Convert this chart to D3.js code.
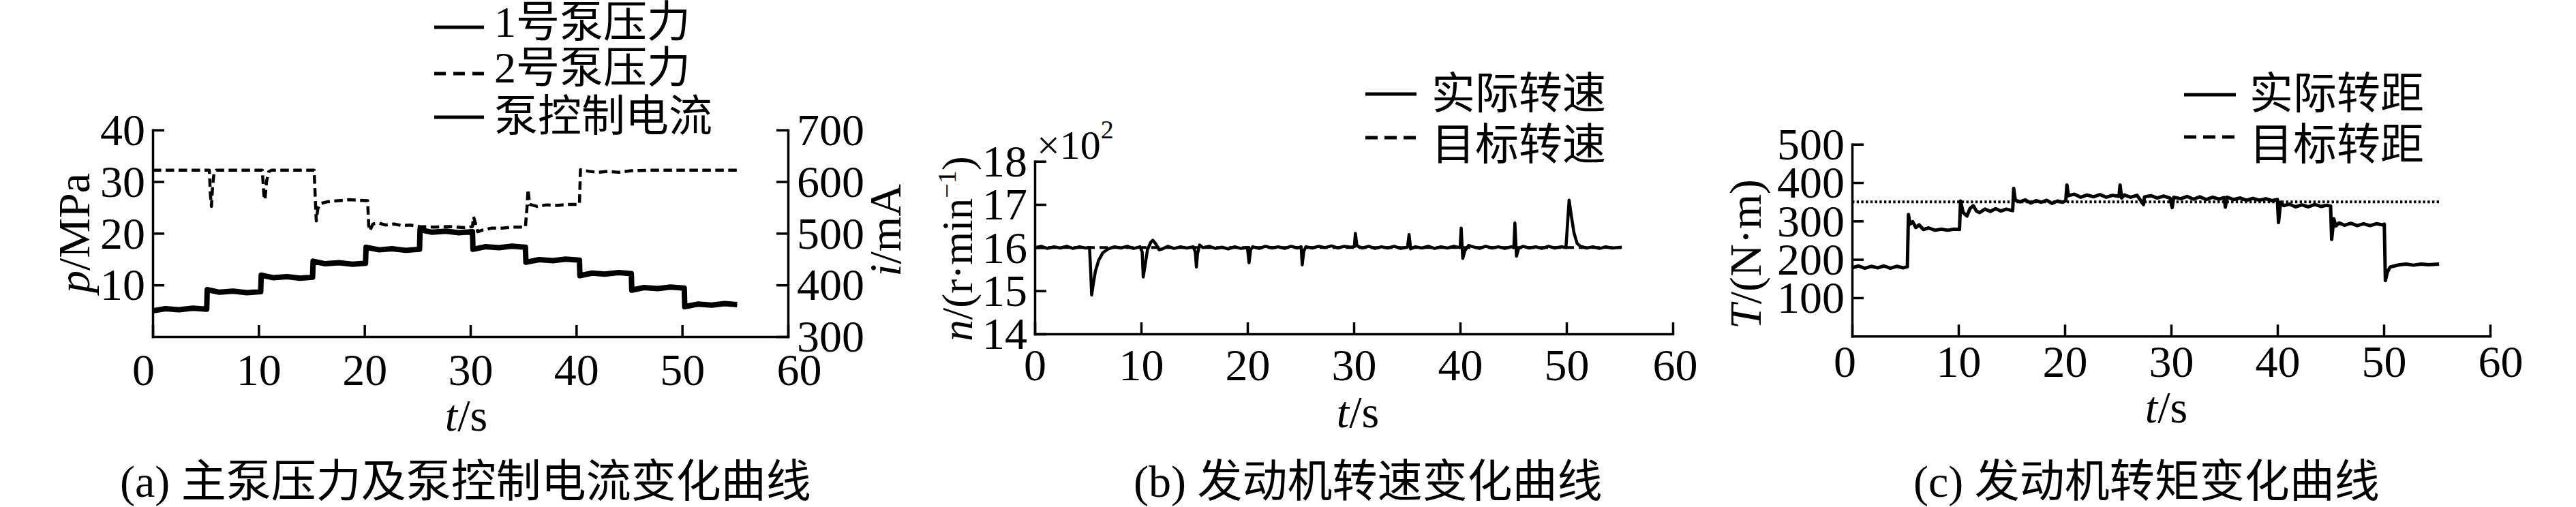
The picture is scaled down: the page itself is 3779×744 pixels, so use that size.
<!DOCTYPE html>
<html><head><meta charset="utf-8">
<script src="https://cdn.jsdelivr.net/npm/d3@7"></script>
<style>
html,body{margin:0;padding:0;background:#fff;}
svg text{font-family:"Liberation Serif","Times New Roman","Noto Sans CJK SC",serif;fill:#000;}
</style></head><body>
<svg id="chart" width="3779" height="744"></svg>
<script>
// ---------------- DATA ----------------
const timeTicks = [0,10,20,30,40,50,60];
const pressureTicks = [10,20,30,40];
const currentTicks = [300,400,500,600,700];
const speedTicks = [14,15,16,17,18];
const torqueTicks = [100,200,300,400,500];

const legendA = ["1号泵压力","2号泵压力","泵控制电流"];
const legendB = ["实际转速","目标转速"];
const legendC = ["实际转距","目标转距"];
const captions = ["(a) 主泵压力及泵控制电流变化曲线","(b) 发动机转速变化曲线","(c) 发动机转矩变化曲线"];

// pump control current (mA) [t, i]
const currentPoints = [
 [0,350],[1.2,354],[2.5,352],[3.8,355],[5.1,353],
 [5.15,391],[6.3,386],[7.6,388],[8.9,385],[10.2,387],
 [10.25,419],[11.4,414],[12.7,416],[13.9,413],[15.1,415],
 [15.15,446],[16.3,441],[17.6,443],[18.9,440],[20.1,442],
 [20.15,473],[21.4,468],[22.6,470],[23.9,467],[25.2,469],
 [25.25,507],[26.4,502],[27.7,504],[28.9,501],[30.2,503],
 [30.25,469],[31.4,474],[32.7,472],[33.9,475],[35.2,473],
 [35.25,444],[36.5,449],[37.8,447],[39.0,450],[40.3,448],
 [40.35,418],[41.5,423],[42.7,421],[44.0,424],[45.2,422],
 [45.25,390],[46.4,395],[47.7,393],[48.9,396],[50.2,394],
 [50.25,358],[51.5,363],[52.8,361],[54.0,364],[55.2,362]
];
// pump 2 pressure (MPa) [t, p]
const pump2Points = [
 [0,32.2],[5.35,32.2],[5.45,27.5],[5.55,25.2],[5.65,29],[5.8,31.8],[6.0,32.2],
 [10.35,32.2],[10.5,27.5],[10.6,26.5],[10.75,30],[10.95,31.9],[11.2,32.2],
 [15.25,32.2],[15.35,27],[15.45,22.4],[15.6,24.8],[15.9,25.8],[16.5,26.1],[17.5,26.3],[18.5,26.5],[19.5,26.4],[20.3,26.3],
 [20.4,21.5],[20.5,20.5],[20.8,21.8],[21.3,22.0],[22.0,21.6],[22.8,21.8],[23.5,21.5],[24.3,21.6],[25.2,21.3],
 [26.5,21.2],[28,21.3],[29.5,21.1],[30.2,21.3],[30.3,23.2],[30.5,21.8],[30.7,20.3],[31.1,20.6],[32,21.0],[33,21.0],[34,21.2],[35.2,21.2],
 [35.35,25],[35.45,28.5],[35.6,25.6],[36.3,25.2],[37.2,25.5],[38.2,25.4],[39.2,25.6],[40.3,25.6],
 [40.4,32.3],[41.2,32.0],[42,31.8],[43,32.0],[44,31.8],[45.2,32.1],[47,32.2],[55.2,32.2]
];
// engine speed (x100 r/min) [t, n]
const speedPoints = [
 [0,16.00],[0.6,16.03],[1.2,15.98],[1.8,16.02],[2.4,15.99],[3.0,16.03],[3.6,15.98],[4.2,16.02],[4.8,15.99],
 [5.15,16.0],[5.25,15.5],[5.35,14.9],[5.5,15.15],[5.7,15.45],[6.0,15.7],[6.4,15.88],[6.9,15.97],[7.5,16.02],[8.1,15.99],[8.7,16.03],[9.3,15.98],[9.9,16.02],
 [10.1,15.9],[10.2,15.32],[10.35,15.55],[10.6,15.95],[10.9,16.12],[11.1,16.17],[11.4,16.08],[11.7,15.95],[12.0,15.97],[12.5,16.03],[13.1,15.98],[13.7,16.02],[14.3,15.99],[14.9,16.02],
 [15.1,15.9],[15.2,15.55],[15.3,15.85],[15.5,16.06],[15.8,16.0],[16.4,16.03],[17.0,15.98],[17.6,16.01],[18.2,15.97],[18.8,16.02],[19.4,15.98],
 [20.0,16.0],[20.15,15.65],[20.3,15.95],[20.5,16.02],[21.1,15.98],[21.7,16.03],[22.3,15.99],[22.9,16.02],[23.5,15.98],[24.1,16.03],[24.7,15.99],
 [25.05,16.02],[25.15,15.6],[25.3,15.92],[25.5,16.02],[26.1,15.99],[26.7,16.03],[27.3,16.0],[27.9,16.04],[28.5,15.99],[29.1,16.03],[29.7,16.01],
 [30.05,16.02],[30.15,16.33],[30.3,16.04],[30.8,15.99],[31.4,16.03],[32.0,15.98],[32.6,16.02],[33.2,15.99],[33.8,16.03],[34.4,15.98],
 [35.05,16.01],[35.2,16.3],[35.35,15.97],[35.8,16.02],[36.4,15.99],[37.0,16.03],[37.6,15.98],[38.2,16.02],[38.8,15.99],[39.4,16.03],
 [40.0,16.0],[40.1,16.45],[40.25,15.75],[40.45,15.93],[40.8,16.05],[41.2,16.02],[41.8,15.98],[42.4,16.03],[43.0,15.99],[43.6,16.02],[44.2,15.98],[44.8,16.02],
 [45.05,16.0],[45.15,16.57],[45.3,15.8],[45.5,15.98],[45.9,16.03],[46.5,15.99],[47.1,16.02],[47.7,15.98],[48.3,16.03],[48.9,15.99],[49.5,16.02],
 [49.95,16.0],[50.1,16.55],[50.25,17.1],[50.45,16.75],[50.7,16.35],[51.0,16.1],[51.3,16.03],[51.9,15.99],[52.5,16.02],[53.1,15.98],[53.7,16.02],[54.3,15.99],[55.2,16.01]
];
const targetSpeedPoints = [[0,16],[55.2,16]];
// engine torque (N·m) [t, T]
const torquePoints = [
 [0,178],[0.6,183],[1.2,177],[1.8,182],[2.4,178],[3.0,183],[3.6,177],[4.2,182],[4.8,178],[5.2,181],
 [5.3,317],[5.45,292],[5.7,298],[6.0,283],[6.3,290],[6.7,278],[7.2,282],[7.8,276],[8.4,279],[9.0,276],[9.6,279],[10.1,278],
 [10.2,352],[10.45,322],[10.8,313],[11.1,333],[11.4,340],[11.7,326],[12.0,322],[12.5,331],[13.0,325],[13.5,332],[14.0,326],[14.5,331],[15.1,327],
 [15.2,385],[15.35,354],[15.8,350],[16.3,355],[16.8,347],[17.3,353],[17.8,349],[18.3,354],[18.8,346],[19.3,352],[19.8,349],[20.1,353],
 [20.2,394],[20.35,366],[20.9,370],[21.5,362],[22.1,368],[22.7,363],[23.3,369],[23.9,362],[24.5,367],[25.1,364],
 [25.2,394],[25.35,360],[25.6,368],[26.2,362],[26.8,367],[27.4,343],[27.5,363],[28.1,366],[28.7,360],[29.3,365],[29.9,360],
 [30.1,335],[30.25,362],[30.9,358],[31.5,364],[32.1,357],[32.7,363],[33.3,356],[33.9,362],[34.5,357],[35.0,361],
 [35.1,336],[35.25,362],[35.9,356],[36.5,360],[37.1,354],[37.7,359],[38.3,354],[38.9,358],[39.5,353],[40.0,356],
 [40.1,296],[40.3,349],[40.6,340],[41.1,344],[41.7,337],[42.3,342],[42.9,337],[43.5,343],[44.1,338],[44.6,341],[45.0,339],
 [45.1,252],[45.3,306],[45.5,287],[45.8,295],[46.3,289],[46.9,294],[47.5,288],[48.1,293],[48.7,288],[49.3,293],[49.9,290],[50.05,292],
 [50.15,145],[50.35,168],[50.6,180],[51.0,183],[51.5,186],[52.1,188],[52.8,185],[53.5,188],[54.2,186],[55.2,188]
];
const targetTorquePoints = [[0,350],[55.2,350]];

// ---------------- DRAWING ----------------
const svg = d3.select("#chart");
svg.append("rect").attr("width",3779).attr("height",744).attr("fill","#fff");
const FS = 66;

function styleAxis(g){
  g.attr("font-size",FS).attr("font-family",'"Liberation Serif","Times New Roman",serif');
  g.select("path.domain").attr("stroke","#000").attr("stroke-width",3.5).attr("stroke-linecap","square");
  g.selectAll(".tick line").attr("stroke","#000").attr("stroke-width",3.5);
  g.selectAll(".tick text").attr("fill","#000");
}
function bottomAxis(x, y0, baseOff, endShift){
  const g = svg.append("g").attr("transform",`translate(0,${y0})`)
    .call(d3.axisBottom(x).tickValues(timeTicks).tickSize(-17).tickSizeOuter(0).tickFormat(d3.format("d")));
  styleAxis(g);
  const n = timeTicks.length;
  g.selectAll(".tick text").attr("y",baseOff).attr("dy",0)
    .attr("dx",(d,i)=> i===0 ? -endShift[0] : (i===n-1 ? endShift[1] : 0));
}
function leftAxis(y, x0, ticks){
  const g = svg.append("g").attr("transform",`translate(${x0},0)`)
    .call(d3.axisLeft(y).tickValues(ticks).tickSize(-17).tickSizeOuter(0).tickPadding(11).tickFormat(d3.format("d")));
  styleAxis(g);
  g.selectAll(".tick text").attr("dy","0.33em");
}
function rightAxis(y, x0, ticks){
  const g = svg.append("g").attr("transform",`translate(${x0},0)`)
    .call(d3.axisRight(y).tickValues(ticks).tickSize(-17).tickSizeOuter(0).tickPadding(13).tickFormat(d3.format("d")));
  styleAxis(g);
  g.selectAll(".tick text").attr("dy","0.33em");
}
function drawLine(data, x, y, w, dash){
  const p = svg.append("path").datum(data)
    .attr("d", d3.line().x(d=>x(d[0])).y(d=>y(d[1])))
    .attr("fill","none").attr("stroke","#000").attr("stroke-width",w)
    .attr("stroke-linejoin","round");
  if(dash) p.attr("stroke-dasharray",dash);
  return p;
}
function legend(items, x1, x2, ys, tx, bases, dashes){
  items.forEach((t,k)=>{
    const l = svg.append("line").attr("x1",x1).attr("x2",x2).attr("y1",ys[k]).attr("y2",ys[k])
      .attr("stroke","#000").attr("stroke-width",5);
    if(dashes[k]) l.attr("stroke-dasharray",dashes[k]);
    svg.append("text").attr("x",tx).attr("y",bases[k]).attr("font-size",64).text(t);
  });
}
function xLabel(cx, base){
  const t = svg.append("text").attr("x",cx).attr("y",base).attr("font-size",FS).attr("text-anchor","middle");
  t.append("tspan").attr("font-style","italic").text("t");
  t.append("tspan").text("/s");
}

// ---- Panel (a)
const xA = d3.scaleLinear([0,60],[224,1156]);
const yP = d3.scaleLinear([0,40],[494,190.7]);
const yI = d3.scaleLinear([300,700],[494,190.7]);
drawLine(currentPoints, xA, yI, 8);
drawLine(pump2Points, xA, yP, 4.5, "12.5,6.5");
bottomAxis(xA, 494, 71, [14,16]);
leftAxis(yP, 224, pressureTicks);
rightAxis(yI, 1156, currentTicks);
legend(legendA, 637, 710, [40,108,172], 725, [54,121,192], [null,"17,11",null]);
{
  const t = svg.append("text").attr("transform","translate(131,342) rotate(-90)").attr("font-size",FS).attr("text-anchor","middle");
  t.append("tspan").attr("font-style","italic").text("p");
  t.append("tspan").text("/MPa");
  const r = svg.append("text").attr("transform","translate(1321,338) rotate(-90)").attr("font-size",FS).attr("text-anchor","middle");
  r.append("tspan").attr("font-style","italic").text("i");
  r.append("tspan").text("/mA");
}
xLabel(684, 632);

// ---- Panel (b)
const xB = d3.scaleLinear([0,60],[1518,2454]);
const yB = d3.scaleLinear([14,18],[490,236.7]);
drawLine(targetSpeedPoints, xB, yB, 4, "12,7");
drawLine(speedPoints, xB, yB, 4.5);
bottomAxis(xB, 490, 68, [0,3]);
leftAxis(yB, 1518, speedTicks);
legend(legendB, 2003, 2078, [138,202], 2100, [159,234], [null,"18,10"]);
{
  const t = svg.append("text").attr("transform","translate(1426,365) rotate(-90)").attr("font-size",63).attr("text-anchor","middle");
  t.append("tspan").attr("font-style","italic").text("n");
  t.append("tspan").text("/(r·min");
  t.append("tspan").attr("font-size",38).attr("dy",-24).text("−1");
  t.append("tspan").attr("dy",24).text(")");
  const m = svg.append("text").attr("x",1521).attr("y",233).attr("font-size",60);
  m.append("tspan").text("×10");
  m.append("tspan").attr("font-size",38).attr("dy",-30).text("2");
}
xLabel(1992, 627);

// ---- Panel (c)
const xC = d3.scaleLinear([0,60],[2717,3653]);
const yC = d3.scaleLinear([0,500],[493.3,211.7]);
drawLine(targetTorquePoints, xC, yC, 4, "3.4,3.3");
drawLine(torquePoints, xC, yC, 5);
bottomAxis(xC, 493.3, 60, [11,15]);
leftAxis(yC, 2717, torqueTicks);
legend(legendC, 3204, 3280, [139,201], 3300, [159,234], [null,"18,10"]);
{
  const t = svg.append("text").attr("transform","translate(2583,373) rotate(-90)").attr("font-size",FS).attr("text-anchor","middle");
  t.append("tspan").attr("font-style","italic").text("T");
  t.append("tspan").text("/(N·m)");
}
xLabel(3178, 620);

// ---- captions
[176,1663,2807].forEach((x,k)=>{
  svg.append("text").attr("x",x).attr("y",729).attr("font-size",66).text(captions[k]);
});
</script>
</body></html>
